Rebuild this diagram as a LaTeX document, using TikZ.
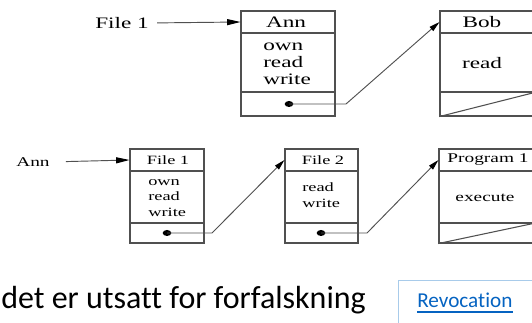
\documentclass[tikz,border=0pt]{standalone}
\usepackage{fontspec}
\setmainfont{Liberation Serif}
\newfontfamily\calfont[RawFeature=-liga]{Carlito}
\usetikzlibrary{arrows.meta,shapes.geometric}
\definecolor{ln}{HTML}{505050}
\definecolor{tx}{HTML}{000000}
\definecolor{linkblue}{HTML}{0563C1}
\definecolor{boxblue}{HTML}{A8CBEA}
\newcommand{\stw}[1]{\scalebox{1.45}[1]{#1}}
\tikzset{
  capbox/.style={draw=ln, line width=0.8pt, inner sep=0},
  divline/.style={draw=ln, line width=0.8pt},
  bigT/.style={font=\fontsize{12}{12.75}\selectfont, text=tx, inner sep=0, align=left},
  smallT/.style={font=\fontsize{9.5}{11.5}\selectfont, text=tx, inner sep=0, align=left},
  ptrdot/.style={ellipse, fill=black, inner sep=0, minimum width=6.5pt, minimum height=4.5pt},
  ptr/.style={draw=ln, line width=0.7pt, -{Triangle[length=8pt,width=4pt,color=black]}},
  harr/.style={draw=ln, line width=0.7pt, -{Triangle[length=10pt,width=4.5pt,color=black]}},
}
\begin{document}
\begin{tikzpicture}[x=0.75pt,y=-0.75pt]
\useasboundingbox (0,0) rectangle (532,323);
\clip (0,0) rectangle (532,323);

% ---------- top row ----------
\node[bigT] (lblFile) at (122,23) {\stw{File 1}};
\node[capbox, minimum width=70.5pt, minimum height=78.75pt] (ann) at (288,63.5) {};
\draw[divline] (ann.west |- 0,33) -- (ann.east |- 0,33);
\draw[divline] (ann.west |- 0,92) -- (ann.east |- 0,92);
\node[bigT] (annH) at (286,22) {\stw{Ann}};
\node[bigT, anchor=west] (annB) at (263,64) {\stw{own}\\\stw{read}\\\stw{write}};
\node[ptrdot] (annP) at (289,104) {};

\node[capbox, minimum width=72pt, minimum height=78.75pt] (bob) at (488,63.5) {};
\draw[divline] (bob.west |- 0,33) -- (bob.east |- 0,33);
\draw[divline] (bob.west |- 0,92) -- (bob.east |- 0,92);
\draw[divline] (bob.south west) -- (bob.east |- 0,92);
\node[bigT] (bobH) at (482,22) {\stw{Bob}};
\node[bigT] (bobB) at (482,63) {\stw{read}};

\draw[harr, shorten <=6pt] (lblFile.east) -- (ann.west |- annH);
\draw[ptr] (annP.center) -- ++(57,0) -- (bob.west |- bobH);

% ---------- bottom row ----------
\node[smallT, font=\fontsize{10}{12}\selectfont] (lblAnn) at (33,162) {\stw{Ann}};
\node[capbox, minimum width=55.5pt, minimum height=70.5pt] (fa) at (167,196) {};
\draw[divline] (fa.west |- 0,171) -- (fa.east |- 0,171);
\draw[divline] (fa.west |- 0,223) -- (fa.east |- 0,223);
\node[smallT] (faH) at (168,160) {\stw{File 1}};
\node[smallT, anchor=west] (faB) at (148,198) {\stw{own}\\\stw{read}\\\stw{write}};
\node[ptrdot] (faP) at (167,233) {};

\node[capbox, minimum width=54.75pt, minimum height=70.5pt] (fb) at (321.5,196) {};
\draw[divline] (fb.west |- 0,171) -- (fb.east |- 0,171);
\draw[divline] (fb.west |- 0,223) -- (fb.east |- 0,223);
\node[smallT] (fbH) at (323,160) {\stw{File 2}};
\node[smallT, anchor=west, font=\fontsize{9.5}{12}\selectfont] (fbB) at (302,195) {\stw{read}\\\stw{write}};
\node[ptrdot] (fbP) at (321,233) {};

\node[capbox, minimum width=72pt, minimum height=70.5pt] (pg) at (487,196) {};
\draw[divline] (pg.west |- 0,171) -- (pg.east |- 0,171);
\draw[divline] (pg.west |- 0,223) -- (pg.east |- 0,223);
\draw[divline] (pg.south west) -- (pg.east |- 0,223);
\node[smallT, font=\fontsize{10}{12}\selectfont] (pgH) at (488,160) {\stw{Program 1}};
\node[smallT, font=\fontsize{10}{12}\selectfont] (pgB) at (485,198) {\stw{execute}};

\draw[harr, shorten <=12pt] (lblAnn.east) -- (fa.west |- faH);
\draw[ptr] (faP.center) -- ++(45,0) -- (fb.west |- fbH);
\draw[ptr] (fbP.center) -- ++(46,0) -- (pg.west |- pgH);

% ---------- slide text ----------
\node[anchor=base west, inner sep=0, text=black, font=\calfont\fontsize{24}{28}\selectfont] (txt) at (1,309) {det er utsatt for forfalskning};
\node[draw=boxblue, line width=0.8pt, anchor=north west, minimum width=112.5pt, minimum height=45pt] (rev) at (398,280) {};
\node[anchor=base west, inner sep=0, text=linkblue, font=\calfont\fontsize{15.9}{18}\selectfont] (revT) at (417,308) {Revocation};
\draw[linkblue, line width=1.3pt] ([yshift=-3pt]revT.base west) -- ([yshift=-3pt]revT.base east);
\end{tikzpicture}
\end{document}
